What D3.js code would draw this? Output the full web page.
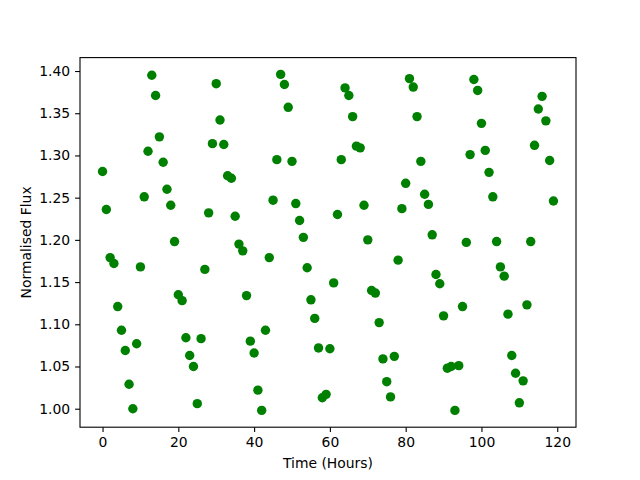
<!DOCTYPE html>
<html><head><meta charset="utf-8">
<script src="https://cdn.jsdelivr.net/npm/d3@7"></script>
<style>body{margin:0;background:#fff}</style>
</head><body>
<script>
const hours = d3.range(0, 120);
const flux = [
1.281,1.236,1.179,1.172,1.121,1.093,1.069,1.029,1.000,1.077,
1.168,1.251,1.305,1.395,1.371,1.322,1.292,1.260,1.241,1.198,
1.135,1.128,1.084,1.063,1.050,1.006,1.083,1.165,1.232,1.314,
1.385,1.342,1.313,1.276,1.273,1.228,1.195,1.187,1.134,1.080,
1.066,1.022,0.998,1.093,1.179,1.247,1.295,1.396,1.384,1.357,
1.293,1.243,1.223,1.203,1.167,1.129,1.107,1.072,1.013,1.017,
1.071,1.149,1.230,1.295,1.380,1.371,1.346,1.311,1.309,1.241,
1.200,1.140,1.137,1.102,1.059,1.032,1.014,1.062,1.176,1.237,
1.267,1.391,1.381,1.346,1.293,1.254,1.242,1.206,1.159,1.148,
1.110,1.048,1.050,0.998,1.051,1.121,1.197,1.301,1.390,1.377,
1.338,1.306,1.280,1.251,1.198,1.168,1.157,1.112,1.063,1.042,
1.007,1.033,1.123,1.198,1.312,1.355,1.370,1.341,1.294,1.246];
const xTicks = [0,20,40,60,80,100,120];
const yTicks = [1.00,1.05,1.10,1.15,1.20,1.25,1.30,1.35,1.40];
const xLabel = "Time (Hours)";
const yLabel = "Normalised Flux";

const W = 640, H = 480;
const L = 80, R = 576, T = 57.6, B = 427.2;
const svg = d3.select("body").append("svg").attr("width", W).attr("height", H)
  .style("font-family", "'DejaVu Sans', sans-serif");

const xe = d3.extent(hours), ye = d3.extent(flux);
const xm = (xe[1]-xe[0])*0.05, ym = (ye[1]-ye[0])*0.05;
const x = d3.scaleLinear().domain([xe[0]-xm, xe[1]+xm]).range([L, R]);
const y = d3.scaleLinear().domain([ye[0]-ym, ye[1]+ym]).range([B, T]);

const pts = hours.map((h,i)=>({h, f: flux[i]}));
svg.append("g").selectAll("circle").data(pts).join("circle")
  .attr("cx", d=>x(d.h)).attr("cy", d=>y(d.f)).attr("r", 4.7)
  .attr("fill", "#008000");

const xAxis = svg.append("g").attr("transform", `translate(0,${B})`)
  .call(d3.axisBottom(x).tickValues(xTicks).tickFormat(d3.format("d")).tickSizeOuter(0).tickSize(4.9).tickPadding(4.9));
const yAxis = svg.append("g").attr("transform", `translate(${L},0)`)
  .call(d3.axisLeft(y).tickValues(yTicks).tickFormat(d3.format(".2f")).tickSizeOuter(0).tickSize(4.9).tickPadding(4.9));
[xAxis, yAxis].forEach(g=>{
  g.select(".domain").remove();
  g.selectAll("line").attr("stroke","#000").attr("stroke-width",1.1);
  g.selectAll("text").attr("font-size","13.9px").attr("fill","#000").style("font-family","'DejaVu Sans', sans-serif");
});

svg.append("rect").attr("x", L).attr("y", T).attr("width", R-L).attr("height", B-T)
  .attr("fill","none").attr("stroke","#000").attr("stroke-width",1.1);

svg.append("text").attr("x", (L+R)/2).attr("y", 468).attr("text-anchor","middle")
  .attr("font-size","13.9px").text(xLabel);
svg.append("text").attr("transform", `translate(31,${(T+B)/2}) rotate(-90)`).attr("text-anchor","middle")
  .attr("font-size","13.9px").text(yLabel);
</script>
</body></html>
